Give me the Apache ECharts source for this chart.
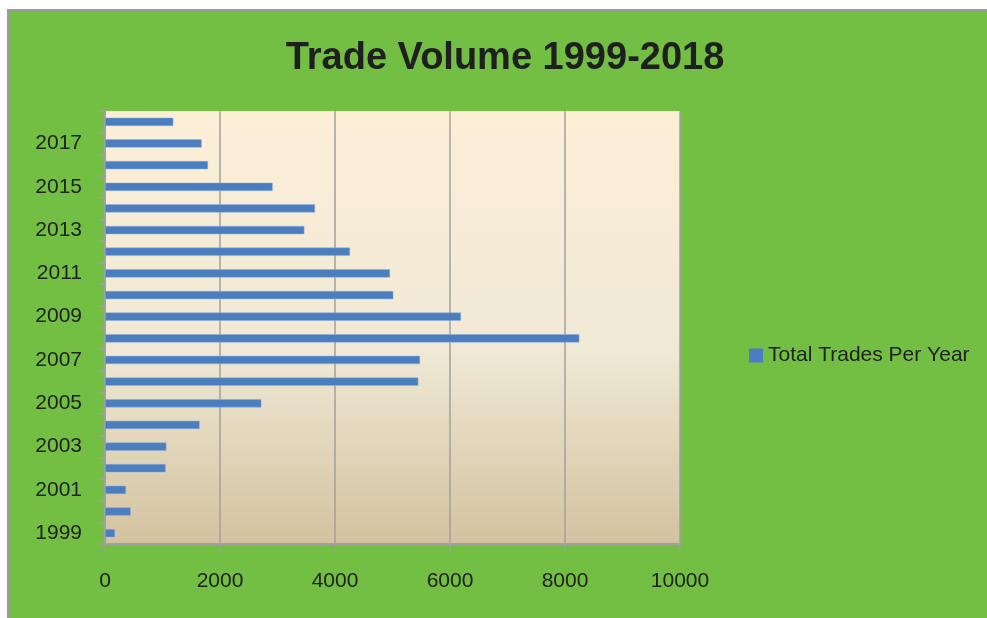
<!DOCTYPE html>
<html>
<head>
<meta charset="utf-8">
<script src="https://cdn.jsdelivr.net/npm/echarts@6/dist/echarts.min.js"></script>
<style>
  html, body { margin: 0; padding: 0; background: #ffffff; }
  #frame { position: absolute; left: 7px; top: 9px; width: 980px; height: 609px;
           background: #72BF44; border-left: 2px solid #9a9a9a; border-top: 2px solid #9a9a9a; box-sizing: border-box; }
  #chart { position: absolute; left: 0; top: 0; width: 987px; height: 618px; }
</style>
</head>
<body>
<div id="frame"></div>
<div id="chart"></div>
<script>
const years = ['1999','2000','2001','2002','2003','2004','2005','2006','2007','2008',
               '2009','2010','2011','2012','2013','2014','2015','2016','2017','2018'];
const totalTrades = [174, 446, 365, 1055, 1067, 1646, 2719, 5449, 5478, 8249,
                     6191, 5014, 4957, 4261, 3467, 3652, 2916, 1791, 1681, 1188];
const xTicks = { min: 0, max: 10000, interval: 2000 };
const titleText = 'Trade Volume 1999-2018';
const seriesName = 'Total Trades Per Year';

const chart = echarts.init(document.getElementById('chart'), null, { renderer: 'canvas' });
const font = 'Liberation Sans, Arial, sans-serif';
chart.setOption({
  backgroundColor: 'transparent',
  animation: false,
  textStyle: { fontFamily: font },
  title: {
    text: titleText,
    left: 500, top: 35, textAlign: 'center',
    textStyle: { fontFamily: font, fontSize: 38, fontWeight: 'bold', color: '#1f1f1f' }
  },
  legend: {
    data: [seriesName],
    left: 744, top: 340,
    icon: 'rect', itemWidth: 14, itemHeight: 14,
    itemStyle: { borderWidth: 0 },
    textStyle: { fontFamily: font, fontSize: 21, color: '#222222' }
  },
  grid: {
    left: 105, right: 307, top: 111, bottom: 74,
    show: true, borderWidth: 0,
    backgroundColor: new echarts.graphic.LinearGradient(0, 0, 0, 1, [
      { offset: 0, color: '#FDEFD6' },
      { offset: 0.55, color: '#F0E9D6' },
      { offset: 1, color: '#D3C29F' }
    ])
  },
  xAxis: {
    type: 'value', min: xTicks.min, max: xTicks.max, interval: xTicks.interval,
    axisLine: { show: true, lineStyle: { color: '#A0A0A0', width: 2 } },
    axisTick: { show: true, length: 7, lineStyle: { color: '#A0A0A0', width: 1.5 } },
    splitLine: { show: true, lineStyle: { color: '#A0A0A0', width: 1.5 } },
    axisLabel: { fontFamily: font, fontSize: 21, color: '#222222', margin: 27,
                 formatter: function (v) { return String(v); } }
  },
  yAxis: {
    type: 'category', data: years,
    axisLine: { show: true, lineStyle: { color: '#A0A0A0', width: 2 } },
    axisTick: { show: true, interval: 0, length: 6, alignWithLabel: false, lineStyle: { color: '#A0A0A0', width: 1.5 } },
    axisLabel: { interval: 1, fontFamily: font, fontSize: 21, color: '#222222', margin: 23 },
    splitLine: { show: false }
  },
  series: [{
    name: seriesName, type: 'bar', data: totalTrades,
    barWidth: '38%',
    itemStyle: { color: '#4A7EBF', borderColor: '#8FB0DA', borderWidth: 0.5 }
  }]
});
</script>
</body>
</html>
